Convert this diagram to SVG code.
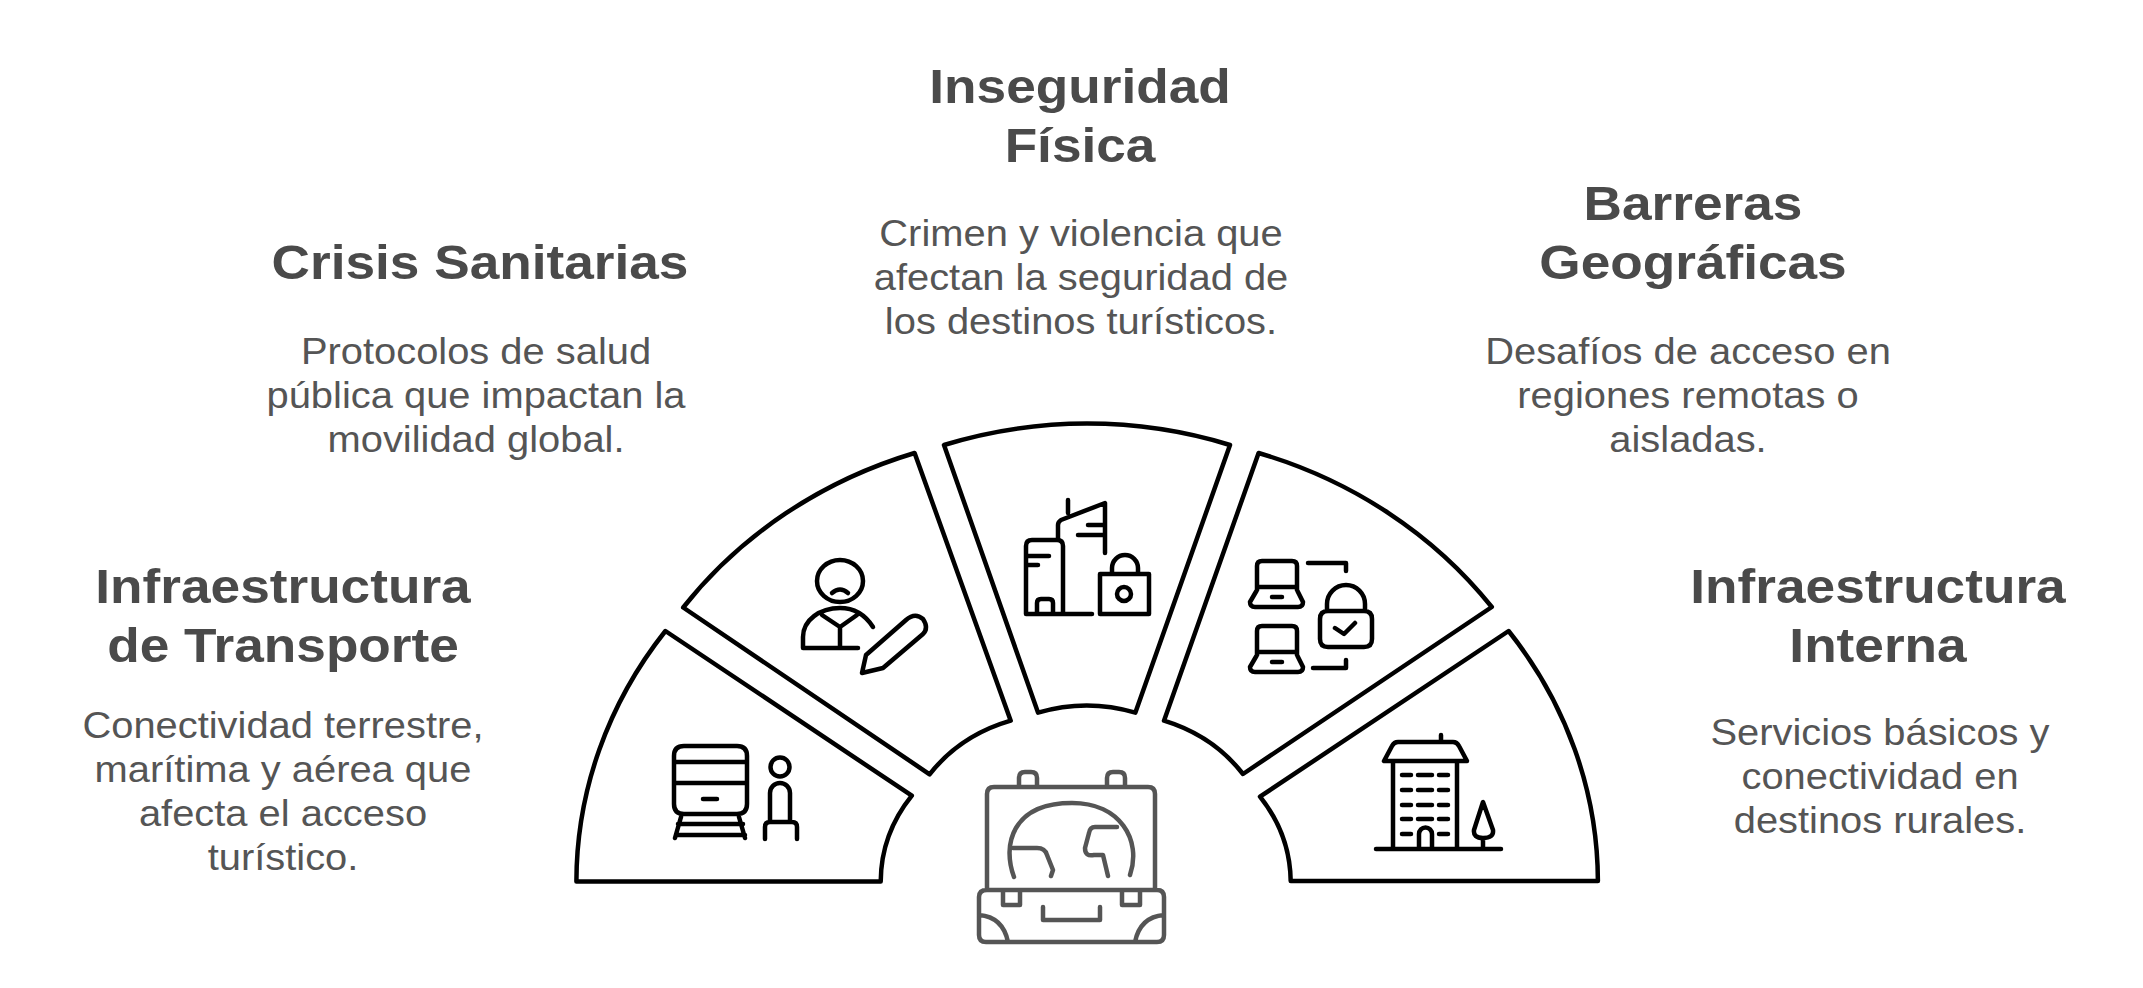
<svg xmlns="http://www.w3.org/2000/svg" width="2143" height="988" viewBox="0 0 2143 988">
<style>
text{font-family:"Liberation Sans",Arial,sans-serif;text-anchor:middle}
.t{font-size:48.800px;font-weight:700;fill:#4a4a4a}
.b{font-size:36.600px;fill:#555}
.seg{fill:#fff;stroke:#000;stroke-width:4.500;stroke-linejoin:round}
.ic{fill:none;stroke:#000;stroke-width:4.500;stroke-linecap:round;stroke-linejoin:round}
.g{stroke:#555}
</style>
<rect width="2143" height="988" fill="#fff"/>
<g id="connectors"/>
<g id="node-transporte">
<path class="seg" d="M576.4 881.4A464 426 0 0 1 665.4 631L911.8 795.7A159 146 0 0 0 880.7 881.4Z"/>
<path class="ic" d="M684 746H737Q747 746 747 756V804Q747 814 737 814H684Q674 814 674 804V756Q674 746 684 746ZM674 762H747M674 783H747M703 799H717M681 817L675 838M739 817L745 838M678 824H743M676 835H745M770 821V793A10 10 0 0 1 790 793V821M765 839V827Q765 822 770 822H792Q797 822 797 827V839"/>
<circle class="ic" cx="780" cy="767" r="9.500"/>
<g transform="translate(283 0) scale(1.09 1)"><text class="t" y="603">Infraestructura</text><text class="t" y="662">de Transporte</text><text class="b" y="738">Conectividad terrestre,</text><text class="b" y="782">marítima y aérea que</text><text class="b" y="826">afecta el acceso</text><text class="b" y="870">turístico.</text></g>
</g>
<g id="node-sanitarias">
<path class="seg" d="M683.2 607.500A464 426 0 0 1 914.6 453L1010.7 720.7A159 146 0 0 0 929.6 774.300Z"/>
<ellipse class="ic" cx="840" cy="581" rx="23" ry="21"/>
<path class="ic" d="M832 593Q840 586 848 593M803 648V637C803 620 820 608 840 608C855 608 866 616 873 627M822 615L840 627L857 615M840 627V648M803 648H858M866 655L906 620Q915 612 923 619Q929 628 923 634L883 668L862 673Z"/>
<g transform="translate(480 0) scale(1.09 1)"><text class="t" y="279">Crisis Sanitarias</text></g>
<g transform="translate(476 0) scale(1.09 1)"><text class="b" y="364">Protocolos de salud</text><text class="b" y="408">pública que impactan la</text><text class="b" y="452">movilidad global.</text></g>
</g>
<g id="node-inseguridad">
<path class="seg" d="M944 445A464 440 0 0 1 1230 445L1135.4 712.6A159 146 0 0 0 1038 712.6Z"/>
<path class="ic" d="M1026 614V546Q1026 540 1032 540H1057Q1063 540 1063 546V614M1026 614H1092M1028 556H1049M1028 565H1038M1037 614V603Q1037 599 1041 599H1049Q1053 599 1053 603V614M1058 540V525Q1058 522 1061 520L1105 503V553M1068 500V513M1088 525H1105M1078 535H1105M1100 574H1149V614H1100ZM1112 574V568A13 13 0 0 1 1138 568V574"/>
<circle class="ic" cx="1124" cy="594" r="7"/>
<g transform="translate(1080 0) scale(1.09 1)"><text class="t" y="103">Inseguridad</text><text class="t" y="162">Física</text></g>
<g transform="translate(1081 0) scale(1.09 1)"><text class="b" y="246">Crimen y violencia que</text><text class="b" y="290">afectan la seguridad de</text><text class="b" y="334">los destinos turísticos.</text></g>
</g>
<g id="node-geograficas">
<path class="seg" d="M1164 720.7L1258.6 453A464 426 0 0 1 1491.8 607L1243 774A159 146 0 0 0 1164 720.7Z"/>
<path class="ic" d="M1257 590V566Q1257 561 1262 561H1292Q1297 561 1297 566V590M1257 587H1297M1257 590L1250 602Q1250 607 1255 607H1298Q1303 607 1303 602L1297 590M1272 597H1282M1257 655V631Q1257 626 1262 626H1292Q1297 626 1297 631V655M1257 652H1297M1257 655L1250 667Q1250 672 1255 672H1298Q1303 672 1303 667L1297 655M1272 662H1282M1308 563H1346V571M1313 668H1346V660M1328 611H1364Q1372 611 1372 619V639Q1372 647 1364 647H1328Q1320 647 1320 639V619Q1320 611 1328 611ZM1327 611V604A19 19 0 0 1 1365 604V611M1335 628L1344 634L1355 623"/>
<g transform="translate(1693 0) scale(1.09 1)"><text class="t" y="220">Barreras</text><text class="t" y="279">Geográficas</text></g>
<g transform="translate(1688 0) scale(1.09 1)"><text class="b" y="364">Desafíos de acceso en</text><text class="b" y="408">regiones remotas o</text><text class="b" y="452">aisladas.</text></g>
</g>
<g id="node-interna">
<path class="seg" d="M1508.6 631A464 426 0 0 1 1597.9 881L1290.7 881A159 146 0 0 0 1260 796.7Z"/>
<path class="ic" d="M1376 849H1501M1393 849V762M1457 849V762M1384 761H1467L1459 746Q1457 742 1453 742H1398Q1394 742 1392 746ZM1441 735V742M1402 775H1411M1418 775H1432M1439 775H1448M1402 790H1411M1418 790H1432M1439 790H1448M1402 805H1411M1418 805H1432M1439 805H1448M1402 819H1411M1418 819H1432M1439 819H1448M1402 834H1411M1439 834H1448M1419 849V834A6.500 6.500 0 0 1 1432 834V849M1483 802L1474 830Q1473 838 1483 838Q1494 838 1493 830ZM1483 838V849"/>
<g transform="translate(1878 0) scale(1.09 1)"><text class="t" y="603">Infraestructura</text><text class="t" y="662">Interna</text></g>
<g transform="translate(1880 0) scale(1.09 1)"><text class="b" y="745">Servicios básicos y</text><text class="b" y="789">conectividad en</text><text class="b" y="833">destinos rurales.</text></g>
</g>
<g id="node-maleta">
<path class="ic g" d="M987 890V794Q987 787 994 787H1148Q1155 787 1155 794V890M1019 787V778Q1019 772 1025 772H1031Q1037 772 1037 778V787M1107 787V778Q1107 772 1113 772H1119Q1125 772 1125 778V787M987 890H1157Q1164 890 1164 897V935Q1164 942 1157 942H986Q979 942 979 935V897Q979 890 987 890ZM1003 890V905H1020V890M1122 890V905H1140V890M1043 907V920H1100V907M979 915Q1003 917 1008 942M1164 915Q1140 917 1135 942M1014 877C1002 845 1012 803 1072 803C1120 803 1142 840 1130 875M1013 848H1037Q1045 848 1047 855L1053 870L1051 876M1117 827H1095Q1090 827 1089 833L1085 848Q1085 857 1094 855H1103L1108 876"/>
</g>
</svg>
